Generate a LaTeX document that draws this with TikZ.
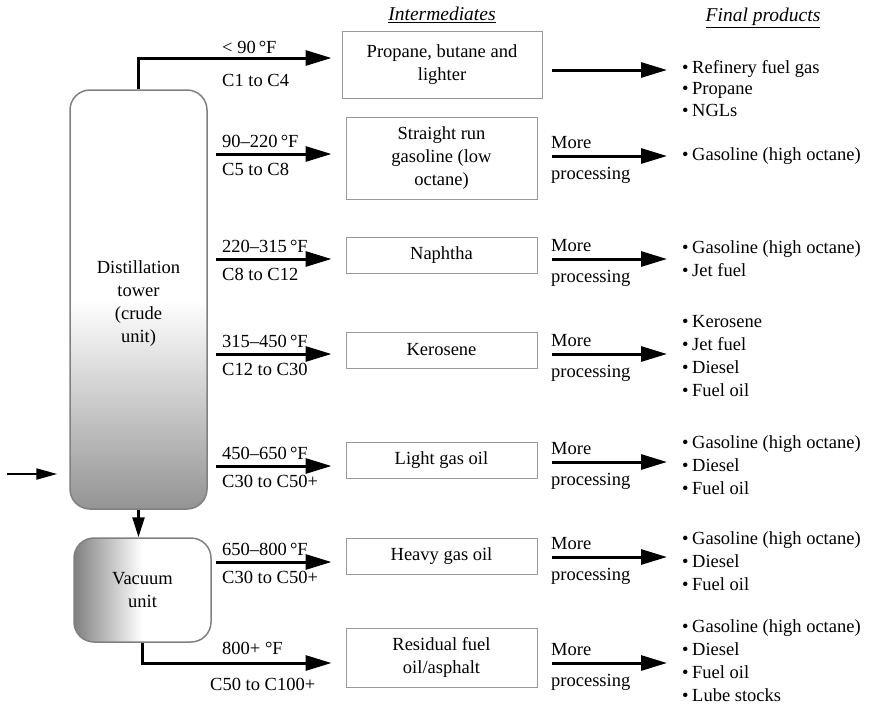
\documentclass[tikz,border=0pt]{standalone}
\usepackage{fontspec}
\setmainfont{Liberation Serif}
\usetikzlibrary{arrows.meta,shadings}

% bullet for the product lists
\newcommand{\itm}{\makebox[18pt][r]{•\hspace{3.5pt}}}

\begin{document}
\begin{tikzpicture}[x=1pt,y=-1pt,
  every node/.style={font=\fontsize{18.5}{23}\selectfont, text=black},
  box/.style={draw=black!40, line width=1pt, align=center, inner sep=0pt, minimum width=191pt},
  unit/.style={draw=black!50, line width=1.5pt, rounded corners=20pt, align=center, inner sep=0pt},
  flow/.style={line width=3pt, -{Triangle[length=26pt,width=15pt]}},
  thinflow/.style={line width=2.5pt, -{Triangle[length=20pt,width=12pt]}},
  lbl/.style={anchor=base west, inner sep=0pt},
  prod/.style={anchor=west, align=left, inner sep=0pt},
  head/.style={font=\fontsize{19.5}{23}\selectfont\itshape}]
\useasboundingbox (0,0) rectangle (869,705);

% column headings
\node[head] (hint) at (442,15) {\underline{Intermediates}};
\node[head] (hfin) at (763,18) {\underline{Final products}};

% crude unit and vacuum unit
\node[unit, minimum width=137pt, minimum height=419pt,
      top color=white, bottom color=black!42, middle color=white] (tower) at (138.5,299.5) {};
\node[align=center, inner sep=0pt] (towertxt) at (138.5,303.5) {Distillation\\tower\\(crude\\unit)};
\node[unit, minimum width=137pt, minimum height=104pt,
      left color=black!50, right color=white, middle color=white] (vac) at (142.5,590)
      {Vacuum\\unit};

% intermediate products
\node[box, minimum width=200pt, minimum height=67pt] (p1) at (442,64.5) {Propane, butane and\\lighter};
\node[box, minimum height=82pt] (p2) at (441.5,158) {Straight run\\gasoline (low\\octane)};
\node[box, minimum height=36pt] (p3) at (441.5,255) {Naphtha};
\node[box, minimum height=36pt] (p4) at (441.5,350) {Kerosene};
\node[box, minimum height=36pt] (p5) at (441.5,460) {Light gas oil};
\node[box, minimum height=36pt] (p6) at (441.5,556) {Heavy gas oil};
\node[box, minimum height=59pt] (p7) at (441.5,657.5) {Residual fuel\\oil/asphalt};

% final products
\node[prod, font=\fontsize{18.5}{21.5}\selectfont] (f1) at (674,88.5)
  {\itm Refinery fuel gas\\\itm Propane\\\itm NGLs};
\node[prod] (f2) at (674,156) {\itm Gasoline (high octane)};
\node[prod, font=\fontsize{18.5}{23.3}\selectfont] (f3) at (674,258.5)
  {\itm Gasoline (high octane)\\\itm Jet fuel};
\node[prod, font=\fontsize{18.5}{23.3}\selectfont] (f4) at (674,356)
  {\itm Kerosene\\\itm Jet fuel\\\itm Diesel\\\itm Fuel oil};
\node[prod, font=\fontsize{18.5}{23.3}\selectfont] (f5) at (674,465)
  {\itm Gasoline (high octane)\\\itm Diesel\\\itm Fuel oil};
\node[prod, font=\fontsize{18.5}{23.3}\selectfont] (f6) at (674,561)
  {\itm Gasoline (high octane)\\\itm Diesel\\\itm Fuel oil};
\node[prod, font=\fontsize{18.5}{23}\selectfont] (f7) at (674,660.5)
  {\itm Gasoline (high octane)\\\itm Diesel\\\itm Fuel oil\\\itm Lube stocks};

% side draws of the towers
\coordinate (s2) at (216,154);
\coordinate (s3) at (216,259);
\coordinate (s4) at (216,354);
\coordinate (s5) at (216,466);
\coordinate (s6) at (216,562);
\coordinate (feed) at (7,474);

\draw[flow, shorten >=10pt] (tower.north) |- (p1.west |- 0,58);
\draw[flow, shorten >=14pt] (s2) -- (p2.west |- s2);
\draw[flow, shorten >=14pt] (s3) -- (p3.west |- s3);
\draw[flow, shorten >=14pt] (s4) -- (p4.west |- s4);
\draw[flow, shorten >=14pt] (s5) -- (p5.west |- s5);
\draw[flow, shorten >=14pt] (s6) -- (p6.west |- s6);
\draw[flow, shorten >=14pt] (vac.south) |- (p7.west |- 0,663);

\draw[thinflow] (tower.south) -- (tower.south |- vac.north);
\draw[line width=2.2pt, -{Triangle[length=21pt,width=11pt]}, shorten >=12pt] (feed) -- (tower.west |- feed);

% cut temperatures and carbon ranges
\node[lbl] (t1) at (222,53) {<\ 90\,°F};
\node[lbl] (c1) at (222,86) {C1 to C4};
\node[lbl] (t2) at (222,147) {90–220\,°F};
\node[lbl] (c2) at (222,175) {C5 to C8};
\node[lbl] (t3) at (222,252) {220–315\,°F};
\node[lbl] (c3) at (222,280) {C8 to C12};
\node[lbl] (t4) at (222,347) {315–450\,°F};
\node[lbl] (c4) at (222,375) {C12 to C30};
\node[lbl] (t5) at (222,459) {450–650\,°F};
\node[lbl] (c5) at (222,487) {C30 to C50+};
\node[lbl] (t6) at (222,555) {650–800\,°F};
\node[lbl] (c6) at (222,583) {C30 to C50+};
\node[lbl] (t7) at (222,654) {800+ °F};
\node[lbl] (c7) at (210,690) {C50 to C100+};

% downstream processing
\draw[flow, shorten <=9pt, shorten >=7pt] (p1.east |- 0,70) -- (f1.west |- 0,70);
\foreach \i/\y in {2/156, 3/259, 4/354, 5/462, 6/557, 7/663} {
  \draw[flow, shorten <=14pt, shorten >=7pt] (p\i.east |- 0,\y) -- (f\i.west |- 0,\y);
  \node[lbl] (m\i) at (551,\y-8) {More};
  \node[lbl] (q\i) at (551,\y+23) {processing};
}
\end{tikzpicture}
\end{document}
